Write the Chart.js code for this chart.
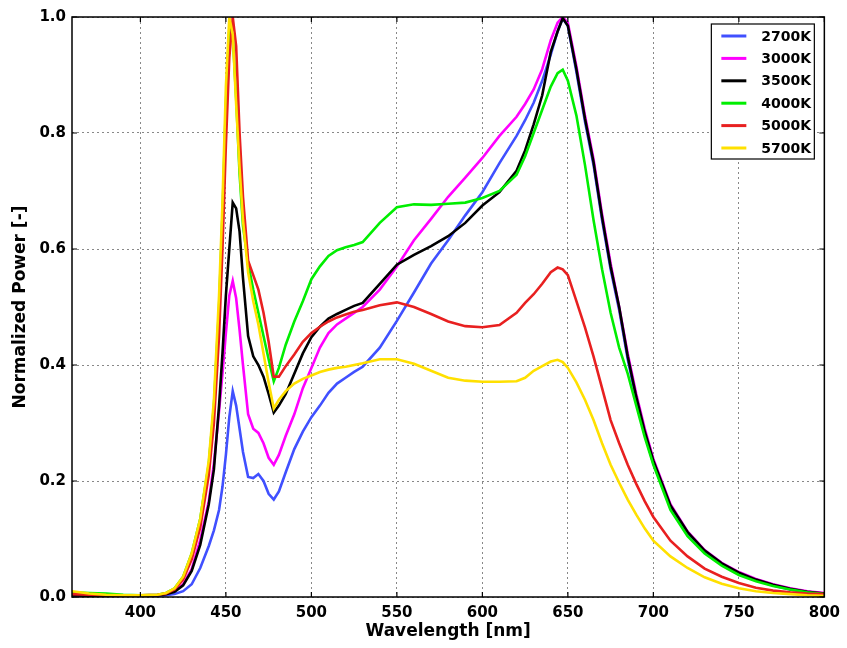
<!DOCTYPE html>
<html>
<head>
<meta charset="utf-8">
<script src="https://cdn.jsdelivr.net/npm/chart.js@4"></script>
<style>
html,body{margin:0;padding:0;background:#fff;}
#c{display:block;}
</style>
</head>
<body>
<canvas id="c" width="847" height="648"></canvas>
<script>
const wavelengths = [360,370,380,390,400,410,415,420,425,430,
435,440,443,446,448,450,452,454,456,458,
460,463,466,469,472,475,478,481,485,490,
495,500,505,510,515,520,525,530,540,550,
560,570,580,590,600,610,620,625,630,635,
640,644,647,650,655,660,665,670,675,680,
685,690,695,700,710,720,730,740,750,760,
770,780,790,800];

const seriesNames = ['2700K','3000K','3500K','4000K','5000K','5700K'];

const s2700 = [0.003,0.002,0.002,0.002,0.002,0.002,0.003,0.005,0.01,0.022,
0.05,0.088,0.115,0.15,0.19,0.245,0.31,0.355,0.33,0.29,
0.25,0.207,0.205,0.212,0.2,0.178,0.168,0.182,0.215,0.255,
0.285,0.31,0.33,0.352,0.368,0.378,0.388,0.397,0.43,0.476,
0.525,0.575,0.615,0.658,0.698,0.748,0.795,0.822,0.852,0.89,
0.935,0.975,0.998,0.985,0.905,0.82,0.745,0.65,0.565,0.495,
0.41,0.34,0.28,0.23,0.155,0.11,0.079,0.057,0.041,0.029,
0.02,0.013,0.009,0.006];

const s3000 = [0.004,0.003,0.002,0.002,0.002,0.003,0.005,0.01,0.022,0.048,
0.098,0.165,0.23,0.32,0.385,0.455,0.52,0.545,0.515,0.46,
0.4,0.315,0.29,0.283,0.265,0.24,0.228,0.245,0.278,0.315,
0.36,0.395,0.43,0.455,0.47,0.48,0.49,0.5,0.53,0.57,
0.615,0.652,0.69,0.723,0.757,0.795,0.828,0.85,0.875,0.91,
0.96,0.99,1.0,0.99,0.915,0.83,0.755,0.66,0.575,0.5,
0.42,0.35,0.29,0.238,0.16,0.113,0.081,0.059,0.043,0.031,
0.022,0.015,0.01,0.007];

const s3500 = [0.003,0.002,0.002,0.002,0.002,0.003,0.005,0.009,0.02,0.045,
0.09,0.16,0.22,0.33,0.42,0.52,0.6,0.68,0.67,0.63,
0.55,0.45,0.415,0.4,0.38,0.35,0.318,0.33,0.35,0.385,
0.42,0.448,0.466,0.48,0.488,0.495,0.502,0.507,0.54,0.573,
0.59,0.605,0.622,0.645,0.675,0.698,0.735,0.77,0.815,0.865,
0.94,0.975,0.998,0.985,0.91,0.825,0.75,0.655,0.57,0.5,
0.415,0.345,0.285,0.235,0.158,0.112,0.08,0.058,0.042,0.03,
0.021,0.014,0.009,0.006];

const s4000 = [0.008,0.007,0.006,0.004,0.003,0.004,0.007,0.015,0.035,0.075,
0.135,0.23,0.33,0.5,0.66,0.85,0.98,0.97,0.86,0.73,
0.64,0.575,0.53,0.49,0.45,0.41,0.372,0.395,0.435,0.475,
0.51,0.548,0.57,0.588,0.598,0.603,0.607,0.612,0.645,0.672,
0.677,0.676,0.678,0.68,0.688,0.7,0.728,0.76,0.8,0.84,
0.88,0.903,0.909,0.89,0.83,0.745,0.65,0.565,0.49,0.43,
0.385,0.33,0.275,0.228,0.15,0.105,0.075,0.054,0.038,0.027,
0.019,0.013,0.008,0.005];

const s5000 = [0.005,0.004,0.003,0.003,0.003,0.004,0.006,0.013,0.03,0.065,
0.12,0.21,0.3,0.45,0.6,0.78,0.93,1.0,0.95,0.8,
0.69,0.58,0.555,0.53,0.49,0.44,0.38,0.38,0.398,0.418,
0.44,0.455,0.466,0.475,0.482,0.487,0.492,0.495,0.503,0.508,
0.5,0.488,0.475,0.467,0.465,0.469,0.49,0.507,0.522,0.54,
0.56,0.568,0.565,0.555,0.51,0.465,0.415,0.36,0.305,0.265,
0.228,0.195,0.165,0.138,0.097,0.07,0.049,0.035,0.024,0.016,
0.011,0.008,0.006,0.005];

const s5700 = [0.01,0.006,0.004,0.003,0.003,0.004,0.007,0.015,0.035,0.075,
0.135,0.235,0.34,0.52,0.68,0.88,1.0,0.97,0.85,0.74,
0.65,0.56,0.51,0.47,0.42,0.37,0.325,0.34,0.355,0.368,
0.376,0.382,0.388,0.392,0.395,0.397,0.4,0.403,0.41,0.41,
0.402,0.39,0.378,0.373,0.371,0.371,0.372,0.378,0.39,0.398,
0.406,0.409,0.405,0.395,0.37,0.34,0.305,0.265,0.228,0.197,
0.168,0.142,0.118,0.097,0.07,0.05,0.034,0.023,0.015,0.01,
0.007,0.005,0.003,0.002];

const xTicks = [400,450,500,550,600,650,700,750,800];
const yTicks = [0.0,0.2,0.4,0.6,0.8,1.0];

const seriesValues = [s2700,s3000,s3500,s4000,s5000,s5700];
const seriesColors = ['#4050ff','#ff00ff','#000000','#00ee00','#e82020','#ffe000'];

const datasets = seriesNames.map((name,i)=>({
  label: name,
  data: wavelengths.map((w,j)=>({x:w,y:seriesValues[i][j]})),
  borderColor: seriesColors[i],
  backgroundColor: seriesColors[i],
  borderWidth: 2.6,
  pointRadius: 0,
  tension: 0,
  fill: false,
  order: seriesNames.length - 1 - i
}));

const frameAndLegend = {
  id: 'frameAndLegend',
  afterDraw(chart){
    const ctx = chart.ctx;
    const a = chart.chartArea;
    const xs = chart.scales.x, ys = chart.scales.y;
    ctx.save();
    // inward tick marks
    ctx.strokeStyle = '#000';
    ctx.lineWidth = 1.2;
    ctx.beginPath();
    xTicks.forEach(v=>{
      const px = xs.getPixelForValue(v);
      ctx.moveTo(px,a.top); ctx.lineTo(px,a.top+5);
      ctx.moveTo(px,a.bottom); ctx.lineTo(px,a.bottom-5);
    });
    yTicks.forEach(v=>{
      const py = ys.getPixelForValue(v);
      ctx.moveTo(a.left,py); ctx.lineTo(a.left+5,py);
      ctx.moveTo(a.right,py); ctx.lineTo(a.right-5,py);
    });
    ctx.stroke();
    // frame
    ctx.lineWidth = 1.5;
    ctx.strokeRect(a.left,a.top,a.right-a.left,a.bottom-a.top);
    // legend
    const bw = 103, bh = 135;
    const bx = a.right - 10 - bw, by = a.top + 7;
    ctx.fillStyle = '#fff';
    ctx.fillRect(bx,by,bw,bh);
    ctx.lineWidth = 1.2;
    ctx.strokeStyle = '#000';
    ctx.strokeRect(bx,by,bw,bh);
    ctx.font = 'bold 14px "DejaVu Sans"';
    ctx.textBaseline = 'middle';
    ctx.textAlign = 'left';
    chart.data.datasets.forEach((ds,i)=>{
      const cy = by + 12 + i*22.4;
      ctx.strokeStyle = ds.borderColor;
      ctx.lineWidth = 3;
      ctx.beginPath();
      ctx.moveTo(bx+10,cy); ctx.lineTo(bx+35,cy);
      ctx.stroke();
      ctx.fillStyle = '#000';
      ctx.fillText(ds.label,bx+50,cy+1);
    });
    ctx.restore();
  }
};

new Chart(document.getElementById('c'),{
  type:'line',
  data:{datasets},
  plugins:[frameAndLegend],
  options:{
    responsive:false,
    animation:false,
    events:[],
    layout:{padding:{left:0,top:17,right:22,bottom:0}},
    plugins:{legend:{display:false},tooltip:{enabled:false}},
    scales:{
      x:{
        type:'linear',
        min:360,max:800,
        afterBuildTicks:s=>{s.ticks = xTicks.map(v=>({value:v}));},
        afterFit:s=>{s.height = 51;},
        ticks:{color:'#000',font:{family:'DejaVu Sans',size:15,weight:'bold'},padding:7,maxRotation:0,autoSkip:false},
        grid:{color:'#888',lineWidth:1,drawTicks:false},
        border:{display:false,dash:[2,3]},
        title:{display:true,text:'Wavelength [nm]',color:'#000',font:{family:'DejaVu Sans',size:17,weight:'bold'},padding:{top:0,bottom:6}}
      },
      y:{
        type:'linear',
        min:0,max:1,
        afterBuildTicks:s=>{s.ticks = yTicks.map(v=>({value:v}));},
        afterFit:s=>{s.width = 72;},
        ticks:{color:'#000',font:{family:'DejaVu Sans',size:15,weight:'bold'},padding:6,callback:v=>Number(v).toFixed(1)},
        grid:{color:'#888',lineWidth:1,drawTicks:false},
        border:{display:false,dash:[2,3]},
        title:{display:true,text:'Normalized Power [-]',color:'#000',font:{family:'DejaVu Sans',size:17,weight:'bold'},padding:{top:10,bottom:0}}
      }
    }
  }
});
</script>
</body>
</html>
